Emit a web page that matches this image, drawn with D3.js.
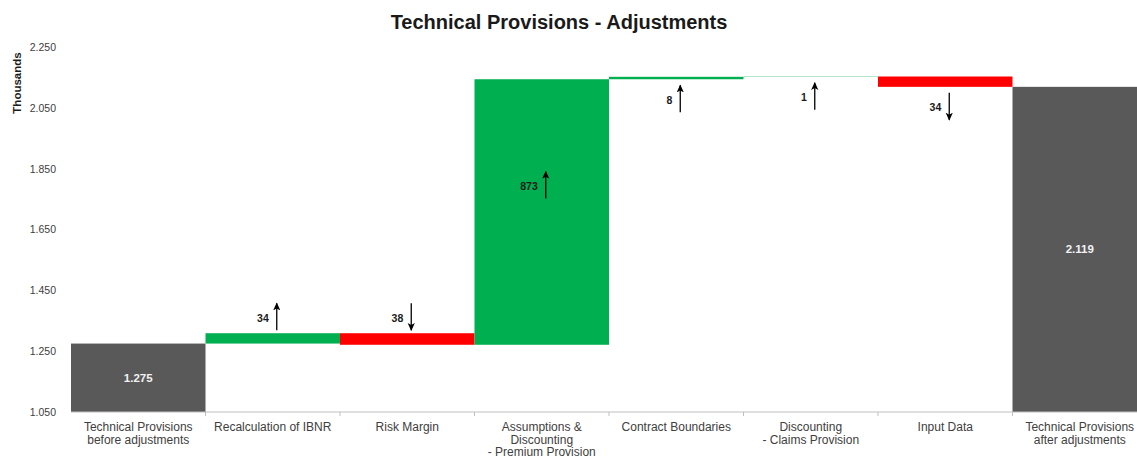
<!DOCTYPE html>
<html>
<head>
	<title>Technical Provisions - Adjustments</title>
	<script src="https://cdn.jsdelivr.net/npm/d3@7/dist/d3.min.js" charset="utf-8"></script>
	<style>
		body { margin: 0; background: #fff; }
		text { font-family: "Liberation Sans", Arial, sans-serif; }
	</style>
</head>
<body>
<script type="text/javascript">
	// data
	var categories = [
		"Technical Provisions\nbefore adjustments",
		"Recalculation of IBNR",
		"Risk Margin",
		"Assumptions &\nDiscounting\n- Premium Provision",
		"Contract Boundaries",
		"Discounting\n- Claims Provision",
		"Input Data",
		"Technical Provisions\nafter adjustments"
	];
	var kinds = ["total", "delta", "delta", "delta", "delta", "delta", "delta", "total"];
	var values = [1275, 34, -38, 873, 8, 1, -34, 2119];
	var notePlace = ["", "above", "above", "inside", "below", "below", "below", ""];
	var yTicks = [1050, 1250, 1450, 1650, 1850, 2050, 2250];

	var svgWidth = 1137, svgHeight = 459;
	var svg = d3.select("body").append("svg")
		.attr("width", svgWidth)
		.attr("height", svgHeight);

	// (window.top is read-only, so not named "top")
	var plotLeft = 71, plotTop = 47, plotBottom = 412;

	var x = d3.scaleBand()
		.domain(categories)
		.range([plotLeft, plotLeft + 134.5 * categories.length])
		.padding(0);
	var y = d3.scaleLinear().domain([1050, 2250]).range([plotBottom, plotTop]);

	var loc = d3.formatLocale({decimal: ",", thousands: ".", grouping: [3], currency: ["", ""]});
	var fmt = loc.format(",");

	// running totals for the waterfall
	var run = 0;
	var rows = categories.map(function(c, i) {
		var r = {cat: c, value: values[i], kind: kinds[i], place: notePlace[i]};
		if (r.kind == "total") {
			r.y0 = 1050; r.y1 = r.value; run = r.value;
		} else {
			r.y0 = run; r.y1 = run + r.value; run = r.y1;
		}
		return r;
	});

	function color(d) {
		if (d.kind == "total") return "#595959";
		return d.value >= 0 ? "#00b050" : "#ff0000";
	}

	// title
	svg.append("text")
		.attr("x", 559).attr("y", 29)
		.attr("text-anchor", "middle")
		.attr("font-size", 20).attr("font-weight", "bold")
		.attr("fill", "#1a1a1a")
		.text("Technical Provisions - Adjustments");

	// y axis title
	svg.append("text")
		.attr("transform", "translate(21,83) rotate(-90)")
		.attr("text-anchor", "middle")
		.attr("font-size", 11.5).attr("font-weight", "bold")
		.attr("fill", "#1a1a1a")
		.text("Thousands");

	var yAxis = svg.append("g")
		.attr("transform", "translate(" + (plotLeft - 12) + ",0)")
		.call(d3.axisLeft(y).tickValues(yTicks).tickFormat(fmt).tickSize(0));
	yAxis.select(".domain").remove();
	yAxis.selectAll("text")
		.attr("font-family", "Liberation Sans, Arial, sans-serif")
		.attr("font-size", 10.5).attr("fill", "#404040");

	// bars
	svg.selectAll("rect.bar")
		.data(rows)
		.enter()
		.append("rect")
		.attr("class", "bar")
		.attr("x", function(d) { return x(d.cat); })
		.attr("width", x.bandwidth())
		.attr("y", function(d) { return y(Math.max(d.y0, d.y1)); })
		.attr("height", function(d) { return Math.abs(y(d.y0) - y(d.y1)); })
		.attr("fill", color);

	// x axis
	var xAxis = svg.append("g")
		.attr("transform", "translate(0," + plotBottom + ")");
	xAxis.append("line")
		.attr("x1", plotLeft).attr("x2", svgWidth)
		.attr("stroke", "#bfbfbf").attr("stroke-width", 1);
	xAxis.selectAll("line.tick")
		.data(categories.slice(1))
		.enter()
		.append("line")
		.attr("class", "tick")
		.attr("x1", function(d) { return x(d); })
		.attr("x2", function(d) { return x(d); })
		.attr("y1", 0).attr("y2", 4)
		.attr("stroke", "#bfbfbf");

	var labels = xAxis.selectAll("text")
		.data(categories)
		.enter()
		.append("text")
		.attr("text-anchor", "middle")
		.attr("font-size", 12)
		.attr("fill", "#404040")
		.attr("x", function(d) { return x(d) + x.bandwidth() / 2; })
		.attr("y", 19);
	labels.each(function(d) {
		var t = d3.select(this);
		d.split("\n").forEach(function(line, k) {
			t.append("tspan")
				.attr("x", x(d) + x.bandwidth() / 2)
				.attr("dy", k == 0 ? 0 : 12.5)
				.text(line);
		});
	});

	// value labels inside the total bars
	svg.selectAll("text.total")
		.data(rows.filter(function(d) { return d.kind == "total"; }))
		.enter()
		.append("text")
		.attr("class", "total")
		.attr("text-anchor", "middle")
		.attr("font-size", 11.5).attr("font-weight", "bold")
		.attr("fill", "#f2f2f2")
		.attr("x", function(d) { return x(d.cat) + x.bandwidth() / 2; })
		.attr("y", function(d) { return (y(d.y0) + y(d.y1)) / 2 + 4; })
		.text(function(d) { return fmt(d.value); });

	// arrow notes for the adjustments
	var defs = svg.append("defs");
	defs.append("marker")
		.attr("id", "head")
		.attr("viewBox", "0 0 10 10")
		.attr("refX", 9).attr("refY", 5)
		.attr("markerWidth", 8).attr("markerHeight", 8)
		.attr("markerUnits", "userSpaceOnUse")
		.attr("orient", "auto")
		.append("path")
		.attr("d", "M0,0.5L10,5L0,9.5L2.5,5Z")
		.attr("fill", "#000");

	var notes = rows.filter(function(d) { return d.kind == "delta"; });
	var arrowLen = 27;
	notes.forEach(function(d) {
		var ax = x(d.cat) + x.bandwidth() / 2 + 4;
		var hi = y(Math.max(d.y0, d.y1)), lo = y(Math.min(d.y0, d.y1));
		var mid;
		if (d.place == "above") mid = hi - 3 - arrowLen / 2;
		else if (d.place == "below") mid = lo + 6 + arrowLen / 2;
		else mid = (hi + lo) / 2 - 27;
		var up = d.value >= 0;
		svg.append("line")
			.attr("x1", ax).attr("x2", ax)
			.attr("y1", up ? mid + arrowLen / 2 : mid - arrowLen / 2)
			.attr("y2", up ? mid - arrowLen / 2 : mid + arrowLen / 2)
			.attr("stroke", "#000").attr("stroke-width", 1.3)
			.attr("marker-end", "url(#head)");
		svg.append("text")
			.attr("x", ax - 8).attr("y", mid + 5)
			.attr("text-anchor", "end")
			.attr("font-size", 10.5).attr("font-weight", "bold")
			.attr("fill", "#1a1a1a")
			.text(Math.abs(d.value));
	});
</script>
</body>
</html>
